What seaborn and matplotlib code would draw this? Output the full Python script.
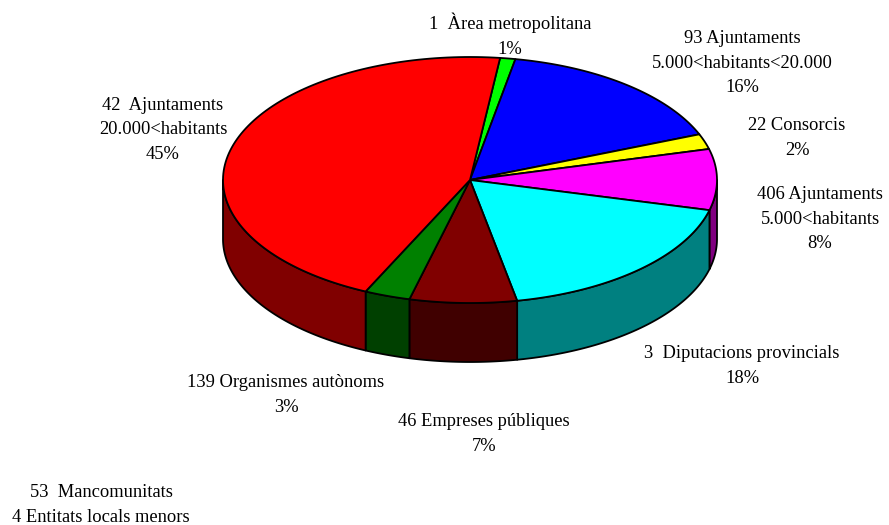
import numpy as np
import matplotlib
matplotlib.use("Agg")
import matplotlib.pyplot as plt
import seaborn as sns
from matplotlib.patches import Polygon

# data (clockwise from the top)
labels = [
    "1  Àrea metropolitana",
    "93 Ajuntaments\n5.000<habitants<20.000",
    "22 Consorcis",
    "406 Ajuntaments\n5.000<habitants",
    "3  Diputacions provincials",
    "46 Empreses públiques",
    "139 Organismes autònoms",
    "42  Ajuntaments\n20.000<habitants",
]
shares = [1, 16, 2, 8, 18, 7, 3, 45]
top_colors = ["#00FF00", "#0000FF", "#FFFF00", "#FF00FF",
              "#00FFFF", "#800000", "#008000", "#FF0000"]
side_colors = ["#008000", "#000080", "#808000", "#800080",
               "#008080", "#400000", "#004000", "#800000"]
label_pos = [(510, 35), (742, 63), (797, 138), (820, 219),
             (742, 366), (484, 434), (286, 395), (163, 130)]
extra_labels = ["53  Mancomunitats", "4 Entitats locals menors"]

# geometry of the 3d pie (pixel space)
cx, cy, rx, ry, depth = 470, 180, 247, 123, 59
start = 83.0

sns.set_style("white")
plt.rcParams["font.family"] = ["Liberation Serif", "DejaVu Serif"]

fig = plt.figure(figsize=(8.89, 5.25), dpi=100)
ax = fig.add_axes([0, 0, 1, 1])
ax.set_xlim(0, 889)
ax.set_ylim(525, 0)
ax.axis("off")

angles = start - np.concatenate([[0], np.cumsum(shares)]) * 3.6


def pt(a):
    r = np.radians(a)
    return cx + rx * np.cos(r), cy - ry * np.sin(r)


# side walls: only the front half (-180..0 deg) is visible
for i in range(len(shares)):
    a0, a1 = angles[i], angles[i + 1]   # a0 > a1 (clockwise)
    for k in (-360, 0, 360):
        h = min(a0 + k, 0)
        l = max(a1 + k, -180)
        if h > l:
            t = np.linspace(h, l, 80)
            xs, ys = pt(t)
            top = np.column_stack([xs, ys])
            bot = np.column_stack([xs, ys + depth])[::-1]
            ax.add_patch(Polygon(np.vstack([top, bot]), closed=True,
                                 facecolor=side_colors[i], edgecolor="black",
                                 lw=1.3, joinstyle="round"))

# top face
for i in range(len(shares)):
    t = np.linspace(angles[i], angles[i + 1], 120)
    xs, ys = pt(t)
    verts = np.vstack([[cx, cy], np.column_stack([xs, ys])])
    ax.add_patch(Polygon(verts, closed=True, facecolor=top_colors[i],
                         edgecolor="black", lw=1.3, joinstyle="round"))

# labels
for lab, s, (x, y) in zip(labels, shares, label_pos):
    ax.text(x, y, f"{lab}\n{s}%", ha="center", va="center",
            fontsize=13.3, linespacing=1.6, color="black")

ax.text(101, 505, "\n".join(extra_labels), ha="center", va="center",
        fontsize=13.3, linespacing=1.6, color="black")

fig.savefig("out.png", dpi=100)
